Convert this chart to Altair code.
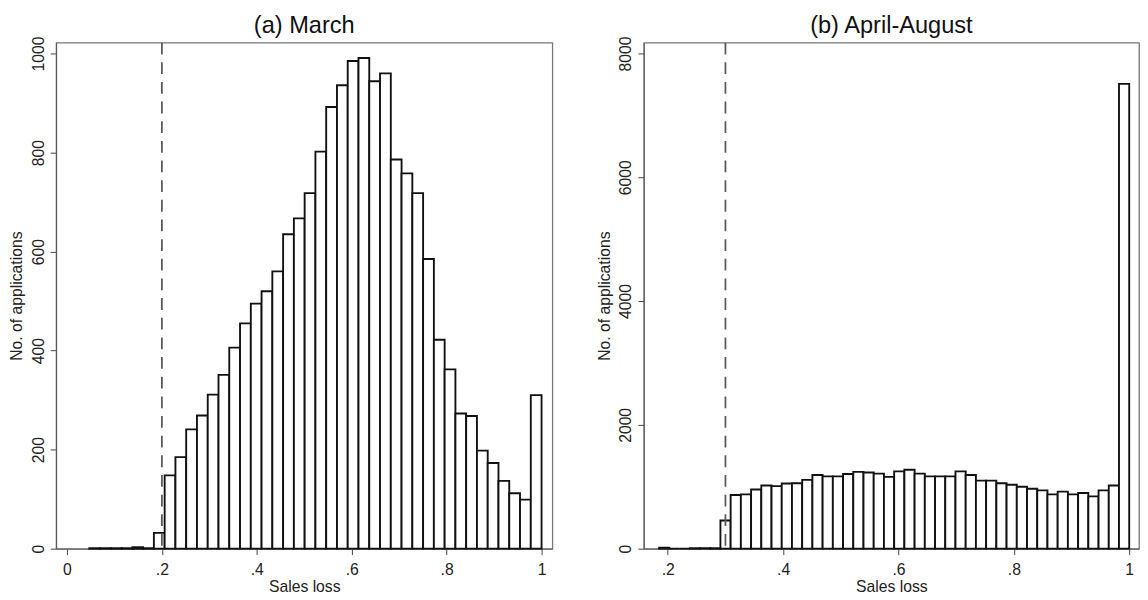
import altair as alt
import pandas as pd

FONT = "Liberation Sans"

# ---- Panel (a) March: histogram of sales loss, 42 equal bins ending at 1
march_first_edge = 0.047
march_counts = [1, 1, 1, 1, 3, 1,
                32, 148, 185, 241, 269, 311, 351, 406, 455, 495,
                520, 560, 635, 667, 718, 802, 892, 936, 985, 991,
                944, 960, 786, 758, 718, 585, 422, 362, 273, 268,
                198, 173, 137, 112, 99, 310]
march_cutoff = 0.2
march_xticks = [0, 0.2, 0.4, 0.6, 0.8, 1]
march_yticks = [0, 200, 400, 600, 800, 1000]

# ---- Panel (b) April-August: 46 equal bins ending at 1
aa_first_edge = 0.185
aa_counts = [15, 0, 0, 8, 8, 8,
             455, 868, 878, 957, 1021, 1011, 1053, 1058, 1111, 1190,
             1169, 1169, 1206, 1240, 1230, 1212, 1159, 1249, 1275, 1212,
             1169, 1169, 1169, 1249, 1190, 1100, 1100, 1058, 1032, 1000,
             968, 942, 878, 921, 878, 899, 846, 942, 1021, 7508]
aa_cutoff = 0.3
aa_xticks = [0.2, 0.4, 0.6, 0.8, 1]
aa_yticks = [0, 2000, 4000, 6000, 8000]


def hist_frame(first_edge, counts):
    n = len(counts)
    w = (1.0 - first_edge) / n
    return pd.DataFrame({
        "lo": [first_edge + i * w for i in range(n)],
        "hi": [first_edge + (i + 1) * w for i in range(n)],
        "count": counts,
    })


LABEL_EXPR = ("datum.value == 0 ? '0' : datum.value >= 1 ? '1' : "
              "'.' + round(datum.value * 10)")


def panel(df, title, xdom, ydom, xticks, yticks, cutoff, width):
    xscale = alt.Scale(domain=xdom, nice=False, zero=False)
    yscale = alt.Scale(domain=ydom, nice=False)
    bars = alt.Chart(df).mark_rect(
        fill="white", stroke="#111111", strokeWidth=1.9
    ).encode(
        x=alt.X("lo:Q", scale=xscale,
                axis=alt.Axis(values=xticks, labelExpr=LABEL_EXPR,
                              title="Sales loss")),
        x2="hi:Q",
        y=alt.Y("count:Q", scale=yscale,
                axis=alt.Axis(values=yticks, format="d",
                              title="No. of applications",
                              labelAngle=270, labelAlign="center",
                              labelBaseline="alphabetic", labelPadding=7,
                              titleBaseline="alphabetic", titlePadding=9)),
        y2=alt.datum(0),
    )
    rule = alt.Chart(pd.DataFrame({"c": [cutoff]})).mark_rule(
        color="#5a5a5a", strokeWidth=1.8, strokeDash=[12, 8]
    ).encode(x=alt.X("c:Q", scale=xscale))
    return alt.layer(bars, rule).properties(
        width=width, height=515,
        title=alt.TitleParams(title, frame="group", anchor="middle",
                              offset=-2,
                              fontSize=24, font=FONT, fontWeight="normal",
                              color="#111111"),
    )


left = panel(hist_frame(march_first_edge, march_counts), "(a) March",
             [-0.0228, 1.0228], [0, 1022], march_xticks, march_yticks,
             march_cutoff, 505)
right = panel(hist_frame(aa_first_edge, aa_counts), "(b) April-August",
              [0.1584, 1.0170], [0, 8175], aa_xticks, aa_yticks,
              aa_cutoff, 504)

chart = alt.hconcat(left, right, spacing=43).properties(
    padding={"left": 0, "top": 0, "right": 0, "bottom": 0}
).configure_view(
    stroke="#777777", strokeWidth=1.3
).configure_axis(
    labelFont=FONT, labelFontSize=16, labelColor="#222222",
    titleFont=FONT, titleFontSize=16, titleFontWeight="normal",
    titleColor="#222222", tickColor="#444444", tickSize=6,
    domainColor="#555555", grid=False,
).configure_axisX(
    labelPadding=7.5, titleBaseline="alphabetic", titlePadding=14
)

chart.save("out.html", embed_options={"renderer": "svg", "actions": False})
